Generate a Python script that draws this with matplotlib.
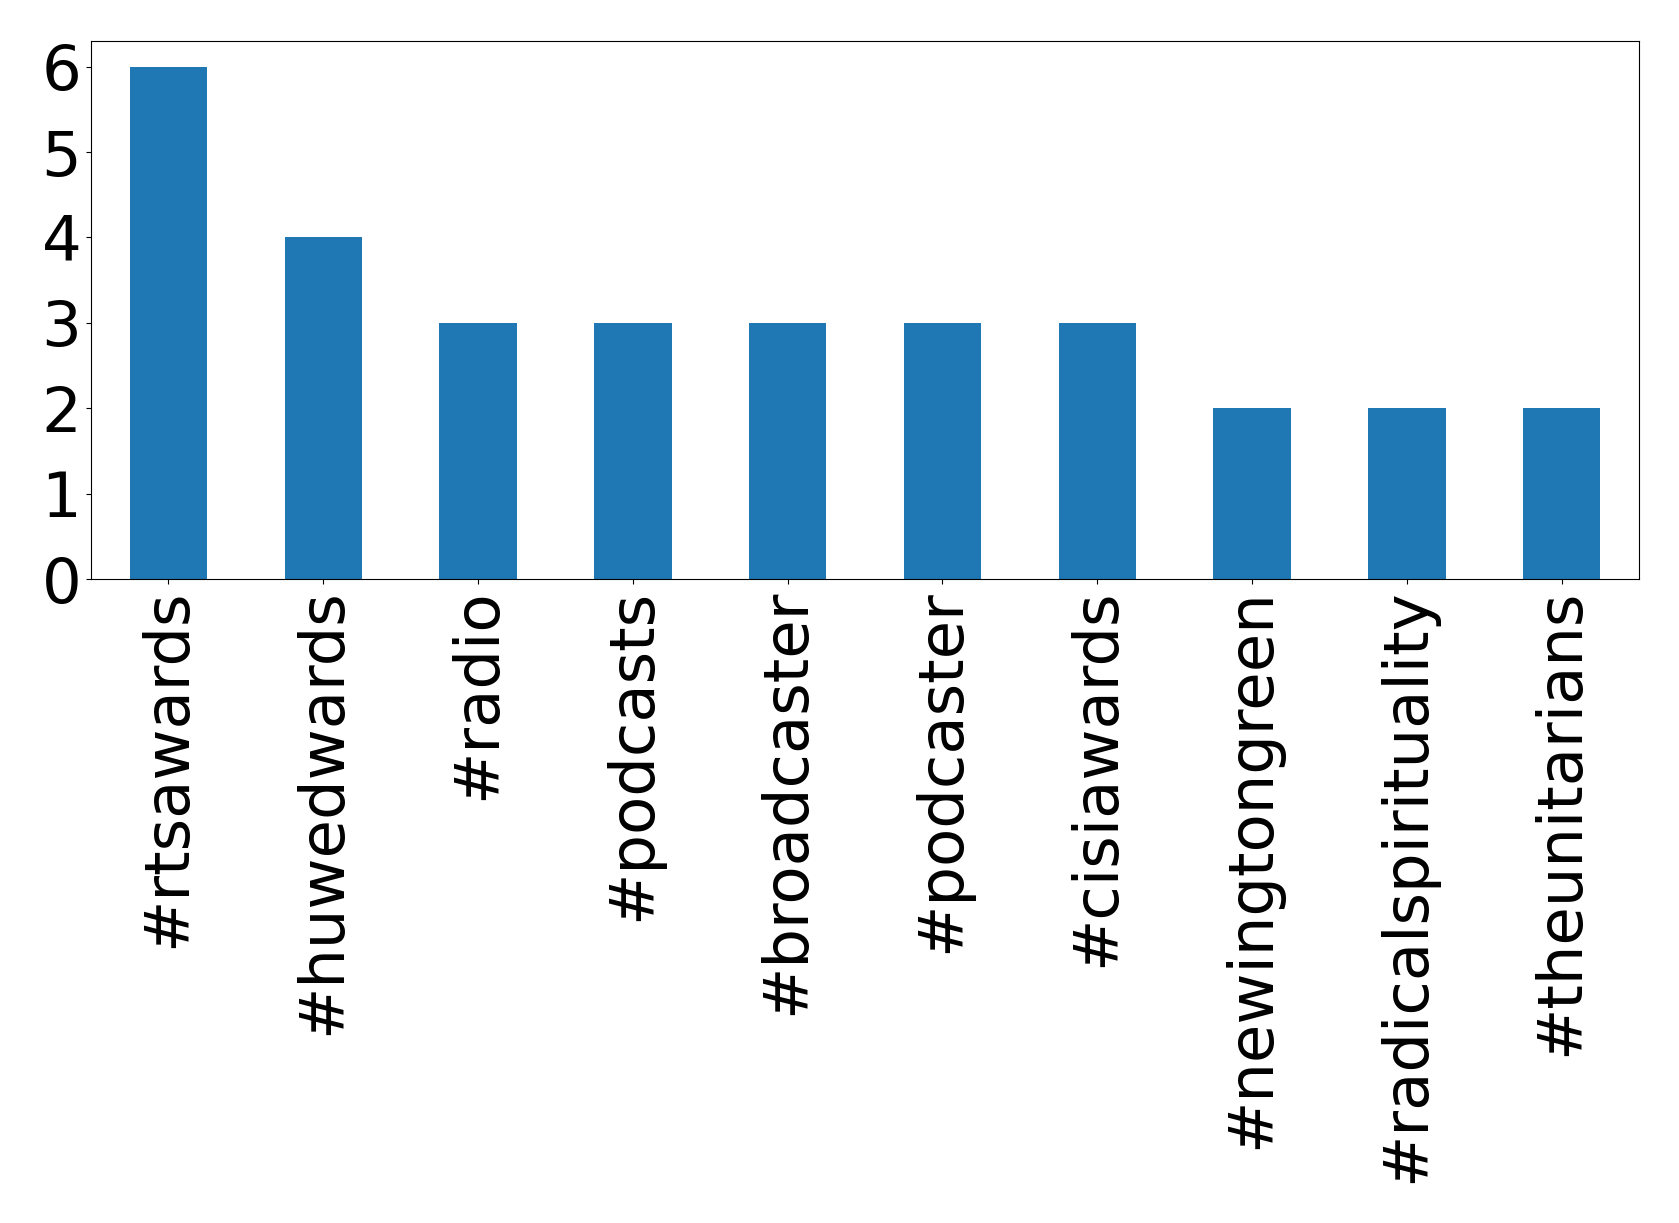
import matplotlib
matplotlib.use("Agg")
import matplotlib.pyplot as plt
import numpy as np

tags = ["#rtsawards", "#huwedwards", "#radio", "#podcasts", "#broadcaster",
        "#podcaster", "#cisiawards", "#newingtongreen", "#radicalspirituality",
        "#theunitarians"]
counts = [6, 4, 3, 3, 3, 3, 3, 2, 2, 2]

fig = plt.figure(figsize=(16.79, 12.23), dpi=100)
ax = fig.add_axes([91/1679, 1 - 579/1223, (1639-91)/1679, (579-41)/1223])
x = np.arange(len(tags))
ax.bar(x, counts, width=0.5, color="#1f77b4")
ax.set_xlim(-0.5, len(tags) - 0.5)
ax.set_ylim(0, max(counts) * 1.05)
ax.set_yticks(range(0, max(counts) + 1))
ax.set_xticks(x)
ax.set_xticklabels(tags, rotation=90, fontsize=45)
ax.tick_params(axis="y", labelsize=45)
fig.savefig("out.png", dpi=100)
